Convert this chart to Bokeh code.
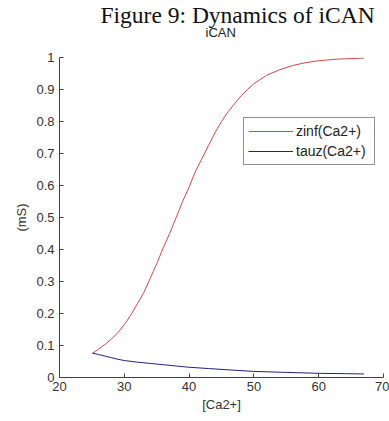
from bokeh.plotting import figure
from bokeh.models import Range1d, Legend, LegendItem, FixedTicker, Title
from bokeh.embed import file_html
from bokeh.resources import INLINE

# Data
ca_zinf = [25.1, 26, 27, 28, 29, 30, 31, 32, 33, 34, 35, 36, 37, 38, 39, 40, 41, 42, 43, 44,
           45, 46, 47, 48, 49, 50, 52, 54, 56, 58, 60, 63, 67]
zinf = [0.076, 0.088, 0.103, 0.12, 0.14, 0.165, 0.195, 0.23, 0.265, 0.31, 0.355, 0.405, 0.45,
        0.50, 0.55, 0.595, 0.645, 0.685, 0.725, 0.765, 0.80, 0.83, 0.855, 0.88, 0.90, 0.918,
        0.945, 0.962, 0.975, 0.984, 0.99, 0.995, 0.998]

ca_tauz = [25.1, 26, 27, 28, 29, 30, 32, 34, 36, 38, 40, 43, 46, 50, 55, 60, 64, 67]
tauz = [0.076, 0.072, 0.067, 0.062, 0.057, 0.053, 0.048, 0.044, 0.040, 0.036, 0.032, 0.028,
        0.024, 0.019, 0.016, 0.013, 0.012, 0.011]

x_ticks = [20, 30, 40, 50, 60, 70]
y_ticks = [0, 0.1, 0.2, 0.3, 0.4, 0.5, 0.6, 0.7, 0.8, 0.9, 1]
y_tick_labels = {0: "0", 0.1: "0.1", 0.2: "0.2", 0.3: "0.3", 0.4: "0.4", 0.5: "0.5",
                 0.6: "0.6", 0.7: "0.7", 0.8: "0.8", 0.9: "0.9", 1: "1"}

font = "Liberation Sans"

p = figure(width=389, height=421, output_backend="svg", toolbar_location=None,
           x_range=Range1d(20, 70), y_range=Range1d(0, 1),
           min_border_left=59, min_border_right=6, min_border_top=57, min_border_bottom=44)
p.outline_line_color = None
p.grid.visible = False
p.background_fill_color = "white"
p.border_fill_color = "white"

# outer (top) title
p.title.text = "Figure 9: Dynamics of iCAN"
p.title.text_font = "Liberation Serif"
p.title.text_font_size = "23.5px"
p.title.text_font_style = "normal"
p.title.text_color = "#111111"
p.title.align = "left"
p.title.offset = 41
p.title.standoff = -46

# inner title next to the plot
sub_title = Title(text="iCAN", text_font=font, text_font_size="13px",
                  text_font_style="normal", text_color="#222222",
                  align="left", offset=146, standoff=36)
p.add_layout(sub_title, "above")

r1 = p.line(ca_zinf, zinf, line_color="#d04848", line_width=1)
r2 = p.line(ca_tauz, tauz, line_color="#22227a", line_width=1)

for ax in (p.xaxis[0], p.yaxis[0]):
    ax.major_tick_in = 4
    ax.major_tick_out = 0
    ax.minor_tick_line_color = None
    ax.axis_line_color = "#404040"
    ax.major_tick_line_color = "#404040"
    ax.major_label_text_font = font
    ax.major_label_text_font_size = "13px"
    ax.major_label_text_color = "#333333"
    ax.axis_label_text_font = font
    ax.axis_label_text_font_size = "13px"
    ax.axis_label_text_font_style = "normal"
    ax.axis_label_text_color = "#333333"

p.xaxis.ticker = FixedTicker(ticks=x_ticks)
p.yaxis.ticker = FixedTicker(ticks=y_ticks)
p.yaxis.major_label_overrides = y_tick_labels
p.xaxis.major_label_standoff = 4
p.yaxis.major_label_standoff = 5
p.xaxis.axis_label = "[Ca2+]"
p.yaxis.axis_label = "(mS)"
p.xaxis.axis_label_standoff = 3
p.yaxis.axis_label_standoff = 4

legend = Legend(items=[LegendItem(label="zinf(Ca2+)", renderers=[r1]),
                       LegendItem(label="tauz(Ca2+)", renderers=[r2])],
                location=(184, 212), orientation="vertical")
legend.border_line_color = "#222222"
legend.border_line_width = 1
legend.background_fill_color = "white"
legend.background_fill_alpha = 1
legend.label_text_font = font
legend.label_text_font_size = "14px"
legend.label_text_color = "#222222"
legend.glyph_width = 45
legend.glyph_height = 18
legend.label_height = 18
legend.label_width = 74
legend.label_standoff = 3
legend.spacing = 2
legend.padding = 4
legend.margin = 0
p.add_layout(legend, "center")

open("out.html", "w").write(file_html(p, INLINE))
